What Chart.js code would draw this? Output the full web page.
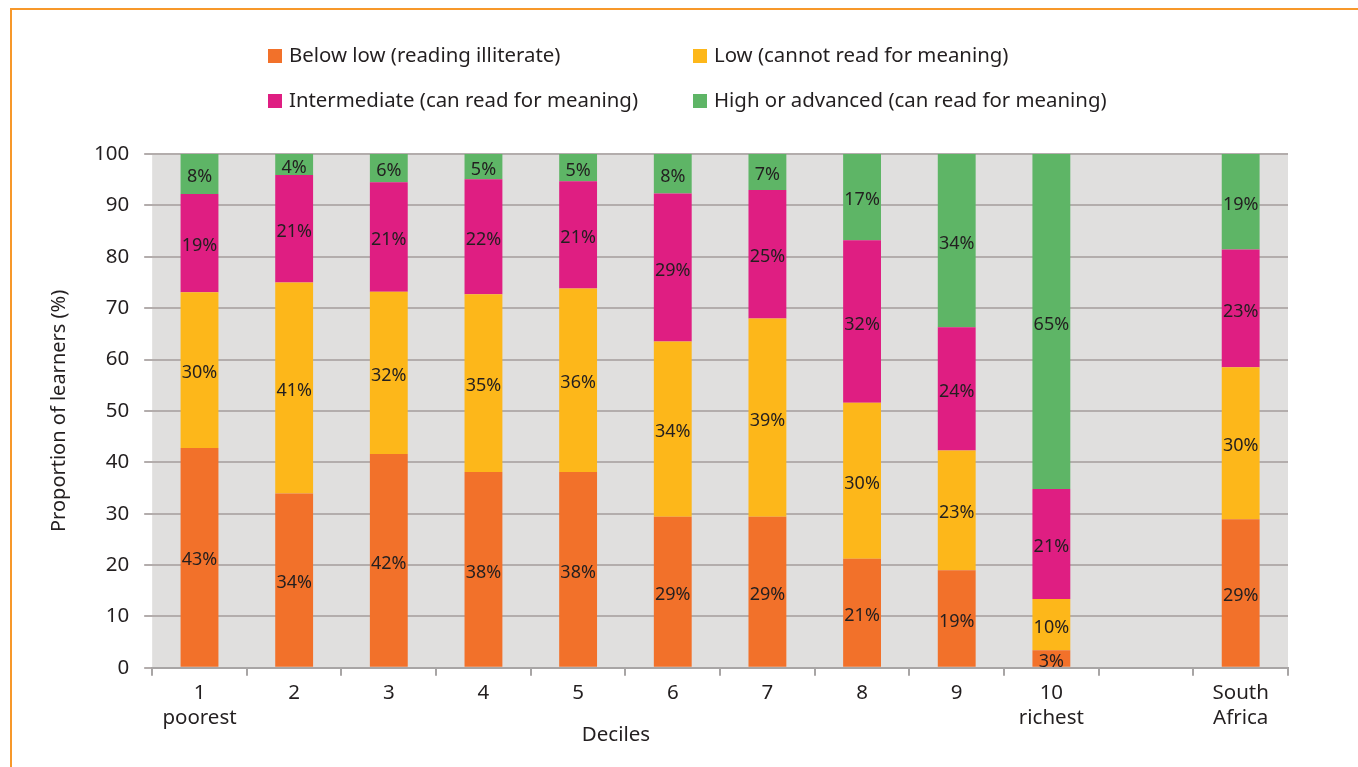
<!DOCTYPE html>
<html>
<head>
<meta charset="utf-8">
<script src="https://cdn.jsdelivr.net/npm/chart.js@4"></script>
<style>
    body { margin: 0; background: #fff; font-family: 'Noto Sans', sans-serif; }
    #wrap { position: relative; width: 1358px; height: 767px; overflow: hidden; }
    #frame { position: absolute; left: 10px; top: 8px; right: -5px; bottom: -5px; border-top: 2px solid #f7982a; border-left: 2px solid #f7982a; }
    #chart { position: absolute; left: 0; top: 0; }
    .legend-item { position: absolute; font-size: 20.4px; color: #231f20; white-space: nowrap; line-height: 24px; }
    .legend-item span.box { display: inline-block; width: 14px; height: 14px; margin-right: 7px; vertical-align: -1px; }
    #xtitle { position: absolute; left: 516px; width: 200px; top: 721px; text-align: center; font-size: 20.5px; line-height: 24px; color: #231f20; }
</style>
</head>
<body>
<div id="wrap">
    <div id="frame"></div>
    <canvas id="chart" width="1358" height="767"></canvas>
    <div id="legend"></div>
    <div id="xtitle">Deciles</div>
</div>
<script>
const categories = [['1', 'poorest'], '2', '3', '4', '5', '6', '7', '8', '9', ['10', 'richest'], '', ['South', 'Africa']];
const seriesNames = [
    'Below low (reading illiterate)',
    'Low (cannot read for meaning)',
    'Intermediate (can read for meaning)',
    'High or advanced (can read for meaning)'
];
const seriesColors = ['#f2712a', '#fdb71a', '#df1e82', '#5eb566'];

const belowLow     = [42.8, 33.9, 41.6, 38.1, 38.1, 29.4, 29.4, 21.2, 19.0, 3.4, null, 28.9];
const low          = [30.3, 41.1, 31.6, 34.6, 35.7, 34.1, 38.6, 30.4, 23.3, 10.0, null, 29.6];
const intermediate = [19.1, 20.9, 21.3, 22.4, 20.9, 28.8, 25.0, 31.6, 24.0, 21.4, null, 22.9];
const high         = [7.8, 4.1, 5.5, 4.9, 5.3, 7.7, 7.0, 16.8, 33.7, 65.2, null, 18.6];

const yTicks = [0, 10, 20, 30, 40, 50, 60, 70, 80, 90, 100];

const plotBackground = {
    id: 'plotBackground',
    beforeDraw(chart) {
        const { ctx, chartArea } = chart;
        ctx.save();
        ctx.fillStyle = '#e0dfde';
        ctx.fillRect(chartArea.left, chartArea.top, chartArea.right - chartArea.left, chartArea.bottom - chartArea.top);
        ctx.restore();
    }
};

const segmentLabels = {
    id: 'segmentLabels',
    afterDatasetsDraw(chart) {
        const ctx = chart.ctx;
        ctx.save();
        ctx.font = '18px "Noto Sans"';
        ctx.fillStyle = '#231f20';
        ctx.textAlign = 'center';
        ctx.textBaseline = 'middle';
        chart.data.datasets.forEach((ds, i) => {
            const meta = chart.getDatasetMeta(i);
            meta.data.forEach((bar, j) => {
                const v = ds.data[j];
                if (v == null) return;
                ctx.fillText(Math.round(v) + '%', bar.x, (bar.y + bar.base) / 2 + 3);
            });
        });
        ctx.restore();
    }
};

const seriesData = [belowLow, low, intermediate, high];

const chart = new Chart(document.getElementById('chart').getContext('2d'), {
    type: 'bar',
    data: {
        labels: categories,
        datasets: seriesNames.map((name, i) => ({
            label: name,
            data: seriesData[i],
            backgroundColor: seriesColors[i],
            categoryPercentage: 1,
            barPercentage: 0.4
        }))
    },
    options: {
        responsive: false,
        animation: false,
        layout: { padding: { top: 154, left: 43, right: 70, bottom: 32 } },
        plugins: {
            legend: { display: false },
            tooltip: { enabled: false }
        },
        scales: {
            x: {
                stacked: true,
                grid: { display: true, drawOnChartArea: false, drawTicks: true, tickLength: 8, color: '#a8a5a5', lineWidth: 2, offset: true },
                border: { display: true, color: '#a8a5a5', width: 2 },
                ticks: { color: '#231f20', font: { family: 'Noto Sans', size: 20.5, lineHeight: 1.2 }, padding: 5, maxRotation: 0, autoSkip: false }
            },
            y: {
                stacked: true,
                min: 0,
                max: 100,
                afterBuildTicks(scale) { scale.ticks = yTicks.map(v => ({ value: v })); },
                grid: { color: '#b3adac', lineWidth: 2, tickLength: 8 },
                border: { display: false },
                ticks: { color: '#231f20', font: { family: 'Noto Sans', size: 20.5 }, padding: 15 },
                title: { display: true, text: 'Proportion of learners (%)', color: '#231f20', font: { family: 'Noto Sans', size: 20 }, padding: { bottom: 8 } }
            }
        }
    },
    plugins: [plotBackground, segmentLabels]
});

// two-column legend like the original
const legend = document.getElementById('legend');
const legendPos = [[268, 42], [693, 42], [268, 87], [693, 87]];
chart.data.datasets.forEach((ds, i) => {
    const item = document.createElement('div');
    item.className = 'legend-item';
    item.style.left = legendPos[i][0] + 'px';
    item.style.top = legendPos[i][1] + 'px';
    item.innerHTML = `<span class="box" style="background:${ds.backgroundColor}"></span>${ds.label}`;
    legend.appendChild(item);
});
</script>
</body>
</html>
